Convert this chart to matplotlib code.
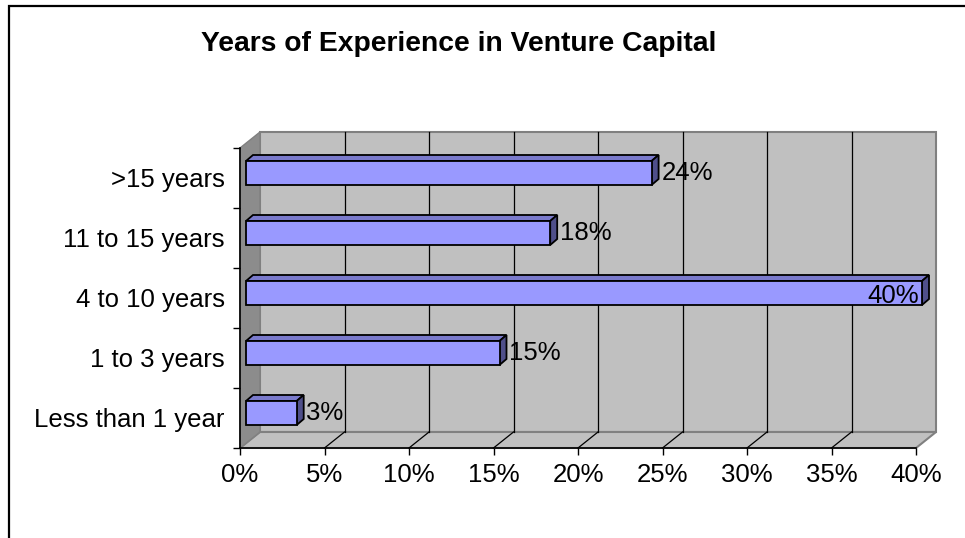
"""Years of experience in venture capital - Excel-style 3D bar chart."""
import matplotlib
matplotlib.use("Agg")
import matplotlib.pyplot as plt
from matplotlib.patches import Polygon, Rectangle

plt.rcParams["font.family"] = ["Liberation Sans", "DejaVu Sans"]

# ---- data ----
categories = ["Less than 1 year", "1 to 3 years", "4 to 10 years", "11 to 15 years", ">15 years"]
shares = [3, 15, 40, 18, 24]
xticks = [0, 5, 10, 15, 20, 25, 30, 35, 40]

# ---- palette ----
WALL = "#c0c0c0"; WALL_E = "#808080"
SIDE = "#8c8c8c"
BAR = "#9999ff"; BAR_TOP = "#7a7acc"; BAR_SIDE = "#4f4f8a"
FS = 18.5

W, H = 965, 538
fig = plt.figure(figsize=(W / 100, H / 100), dpi=100)
fig.patch.set_facecolor("white")

# front plane of the plot box, in pixels
px0, px1, py_top, py_bot = 240, 916, 148, 448
ax = fig.add_axes([px0 / W, 1 - py_bot / H, (px1 - px0) / W, (py_bot - py_top) / H])
ax.set_facecolor("none")
ax.set_xlim(0, 40)
ax.set_ylim(-0.5, len(categories) - 0.5)

# pixel -> data helpers for the depth offset
dxp = 40 / (px1 - px0)
dyp = len(categories) / (py_bot - py_top)
OX, OY = 20 * dxp, 16 * dyp          # wall depth
FX, FY = 6 * dxp, 5 * dyp            # bar front face offset
BX, BY = 13 * dxp, 11 * dyp          # bar back face offset

y0, y1 = -0.5, len(categories) - 0.5
xmax = 40


def poly(pts, fc, ec, lw=1.0, z=1):
    ax.add_patch(Polygon(pts, closed=True, fc=fc, ec=ec, lw=lw, zorder=z, clip_on=False))


# back wall, floor, side wall
poly([(OX, y0 + OY), (xmax + OX, y0 + OY), (xmax + OX, y1 + OY), (OX, y1 + OY)], WALL, WALL_E, 1.5, 0.5)
poly([(0, y0), (xmax, y0), (xmax + OX, y0 + OY), (OX, y0 + OY)], WALL, WALL_E, 1.5, 0.6)
poly([(0, y0), (OX, y0 + OY), (OX, y1 + OY), (0, y1)], SIDE, WALL_E, 1.0, 0.7)

# gridlines on wall and floor
for t in xticks[1:-1]:
    ax.plot([t + OX, t + OX], [y0 + OY, y1 + OY], color="black", lw=0.9, zorder=0.8, clip_on=False)
    ax.plot([t, t + OX], [y0, y0 + OY], color="black", lw=0.9, zorder=0.8, clip_on=False)

# bars: front faces via barh, top and side faces as polygons
h = 0.4
ypos = list(range(len(categories)))
ax.barh([y + FY for y in ypos], shares, height=h, left=FX, color=BAR,
        edgecolor="black", lw=1.3, zorder=3, clip_on=False)
for y, v in zip(ypos, shares):
    top = y + h / 2
    poly([(FX, top + FY), (v + FX, top + FY), (v + BX, top + BY), (BX, top + BY)],
         BAR_TOP, "black", 1.3, 2.9)
    poly([(v + FX, y - h / 2 + FY), (v + BX, y - h / 2 + BY), (v + BX, top + BY), (v + FX, top + FY)],
         BAR_SIDE, "black", 1.3, 2.9)
    if v >= 40:
        ax.annotate(f"{v}%", (v + FX, y + FY), xytext=(-2, -2), textcoords="offset points",
                    ha="right", va="center", fontsize=FS, zorder=5, annotation_clip=False)
    else:
        ax.annotate(f"{v}%", (v + BX, y + FY), xytext=(2, 0), textcoords="offset points",
                    ha="left", va="center", fontsize=FS, zorder=5, annotation_clip=False)

# front axes
for s in ("top", "right"):
    ax.spines[s].set_visible(False)
for s in ("left", "bottom"):
    ax.spines[s].set_color("black")
    ax.spines[s].set_linewidth(1.2)
    ax.spines[s].set_zorder(4)
ax.set_xticks(xticks)
ax.set_xticklabels([f"{t}%" for t in xticks], fontsize=FS)
ax.set_yticks(ypos)
ax.set_yticklabels(categories, fontsize=FS)
ax.set_yticks([y - 0.5 for y in ypos] + [y1], minor=True)
ax.tick_params(axis="y", which="major", length=0, pad=11)
ax.tick_params(axis="y", which="minor", length=5, width=1)
ax.tick_params(axis="x", length=5, width=1, pad=6)

# title and outer frame
fig.text(459 / W, 1 - 44 / H, "Years of Experience in Venture Capital", ha="center", va="center",
         fontsize=20.3, fontweight="bold")
fig.add_artist(Rectangle((9 / W, -0.1), 1.2, 1 - 6 / H + 0.1, transform=fig.transFigure,
                         fill=False, ec="black", lw=1.6))

fig.savefig("out.png", dpi=100, facecolor="white")
